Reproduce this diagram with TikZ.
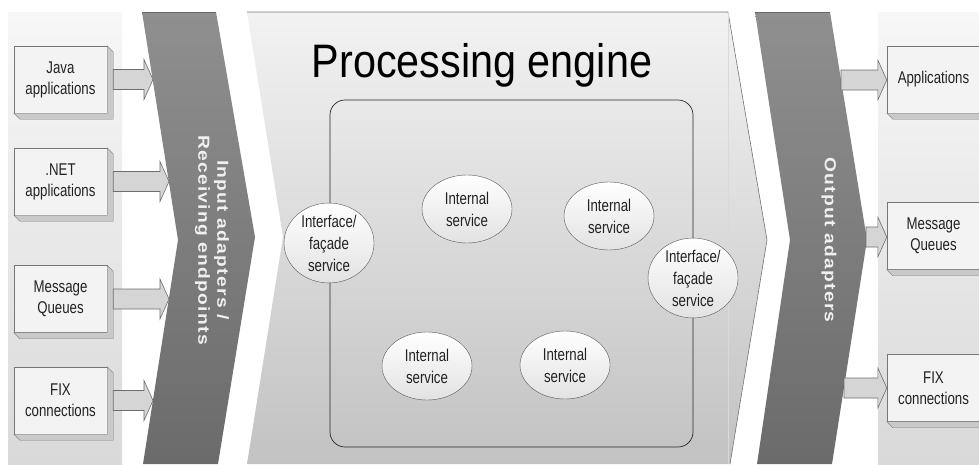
\documentclass[tikz,border=0pt]{standalone}
\usepackage{fontspec}
\setmainfont{Liberation Sans}
\newfontfamily\narrowfont[FakeStretch=0.78]{Liberation Sans}
\newfontfamily\titlefont[FakeStretch=0.88]{Liberation Sans}
\newfontfamily\bandfont[FakeStretch=1.2,LetterSpace=8]{Liberation Sans}
\usetikzlibrary{shapes.geometric,calc}

\definecolor{paneltop}{HTML}{F7F7F7}
\definecolor{panelbot}{HTML}{D9D9D9}
\definecolor{enginetop}{HTML}{F2F2F2}
\definecolor{enginebot}{HTML}{C2C2C2}
\definecolor{bandtop}{HTML}{8F8F8F}
\definecolor{bandbot}{HTML}{6B6B6B}
\definecolor{boxfront}{HTML}{F3F3F3}
\definecolor{boxline}{HTML}{767676}
\definecolor{bevelfill}{HTML}{C9C9C9}
\definecolor{arrowfill}{HTML}{D5D5D5}
\definecolor{arrowline}{HTML}{6E6E6E}
\definecolor{ellbottom}{HTML}{E2E2E2}
\definecolor{textgray}{HTML}{222222}

\tikzset{
  srcbox/.style={rectangle, draw=boxline, fill=boxfront, minimum width=93pt, minimum height=67pt,
    inner sep=0pt, align=center, text=textgray, font=\narrowfont\fontsize{17}{21}\selectfont},
  bevelside/.style={draw=boxline, fill=bevelfill},
  service/.style={ellipse, draw=black!65, top color=white, bottom color=ellbottom,
    minimum width=90pt, minimum height=68pt, inner sep=0pt, align=center, text=textgray,
    font=\narrowfont\fontsize{17}{22}\selectfont},
  blockarrow/.style={draw=arrowline, fill=arrowfill, line width=0.6pt},
  bandtext/.style={rotate=-90, align=center, text=white!94!black,
    font=\bandfont\bfseries\fontsize{16}{19}\selectfont},
}

% block arrow from #1 to #2, kept level with #1
\newcommand{\blockarrow}[2]{%
  \draw[blockarrow] let \p1=(#1), \p2=(#2) in
    (\x1,\y1-10pt) -- (\x2-9pt,\y1-10pt) -- (\x2-9pt,\y1-20pt) -- (\x2,\y1)
    -- (\x2-9pt,\y1+20pt) -- (\x2-9pt,\y1+10pt) -- (\x1,\y1+10pt) -- cycle;}
% 3d edge under and right of a box
\newcommand{\boxbevel}[1]{%
  \filldraw[bevelside] (#1.north east) -- ([shift={(6,6)}]#1.north east)
    -- ([shift={(6,6)}]#1.south east) -- ([shift={(6,6)}]#1.south west)
    -- (#1.south west) -- (#1.south east) -- cycle;}

\begin{document}
\begin{tikzpicture}[x=1pt,y=-1pt]
		\useasboundingbox (0,0) rectangle (979,464);

		% side panels
		\shade[top color=paneltop, bottom color=panelbot] (8,12) rectangle (122,464);
		\shade[top color=paneltop, bottom color=panelbot] (878,12) rectangle (990,464);

		% processing engine
		\shade[top color=enginetop, bottom color=enginebot] (247,12) -- (728,12) -- (767,240) -- (730,464) -- (247,464) -- (283,237) -- cycle;
		\draw[black!55, line width=0.6pt] (247,12) -- (728,12) -- (767,240) -- (730,464);
		\draw[gray!30] (728,12) -- (728,464);
		\node[anchor=base, font=\titlefont\fontsize{47}{50}\selectfont] (title) at (482,77) {Processing engine};

		% adapter bands
		\shade[top color=bandtop, bottom color=bandbot] (142,12) -- (216,12) -- (255,237) -- (218,464) -- (143,464) -- (178,240) -- cycle;
		\draw[black!60, line width=1pt] (142,12) -- (216,12);
		\shade[top color=bandtop, bottom color=bandbot] (755,12) -- (830,12) -- (867,240) -- (832,464) -- (757,464) -- (790,240) -- cycle;
		\draw[black!60, line width=1pt] (755,12) -- (830,12);
		\node[bandtext] (inlabel) at (212,240) {Input adapters /\\Receiving endpoints};
		\node[bandtext] (outlabel) at (829,240) {Output adapters};

		% services
		\node[draw=black!85, line width=0.7pt, rounded corners=15pt, minimum width=363pt, minimum height=347pt] (core) at (511.5,273.5) {};
		\node[service] (faceL) at (329,243) {Interface/\\façade\\service};
		\node[service] (svcA) at (467,209) {Internal\\service};
		\node[service] (svcB) at (609,216) {Internal\\service};
		\node[service] (svcC) at (427,366) {Internal\\service};
		\node[service] (svcD) at (565,365) {Internal\\service};
		\node[service] (faceR) at (693,278) {Interface/\\façade\\service};

		% sources
		\node[srcbox] (java) at (60.5,79.5) {Java\\applications};
		\node[srcbox] (dotnet) at (60.5,181.5) {.NET\\applications};
		\node[srcbox] (mqin) at (60.5,299) {Message\\Queues};
		\node[srcbox] (fixin) at (60.5,400.5) {FIX\\connections};
		% targets
		\node[srcbox] (apps) at (933.5,79.5) {Applications};
		\node[srcbox] (mqout) at (933.5,236) {Message\\Queues};
		\node[srcbox] (fixout) at (933.5,388) {FIX\\connections};
		\foreach \b in {java,dotnet,mqin,fixin,apps,mqout,fixout} {\boxbevel{\b}}

		% band edges
		\coordinate (inJava) at (153,80);
		\coordinate (inNet) at (169,182);
		\coordinate (inMq) at (169,299);
		\coordinate (inFix) at (153,400);
		\coordinate (outApps) at (841,80);
		\coordinate (outMq) at (866,237);
		\coordinate (outFix) at (844,388);

		\blockarrow{[xshift=6pt]java.east}{inJava}
		\blockarrow{[xshift=6pt]dotnet.east}{inNet}
		\blockarrow{[xshift=6pt]mqin.east}{inMq}
		\blockarrow{[xshift=6pt]fixin.east}{inFix}
		\blockarrow{outApps}{apps.west}
		\blockarrow{outMq}{mqout.west}
		\blockarrow{outFix}{fixout.west}
	\end{tikzpicture}
\end{document}
